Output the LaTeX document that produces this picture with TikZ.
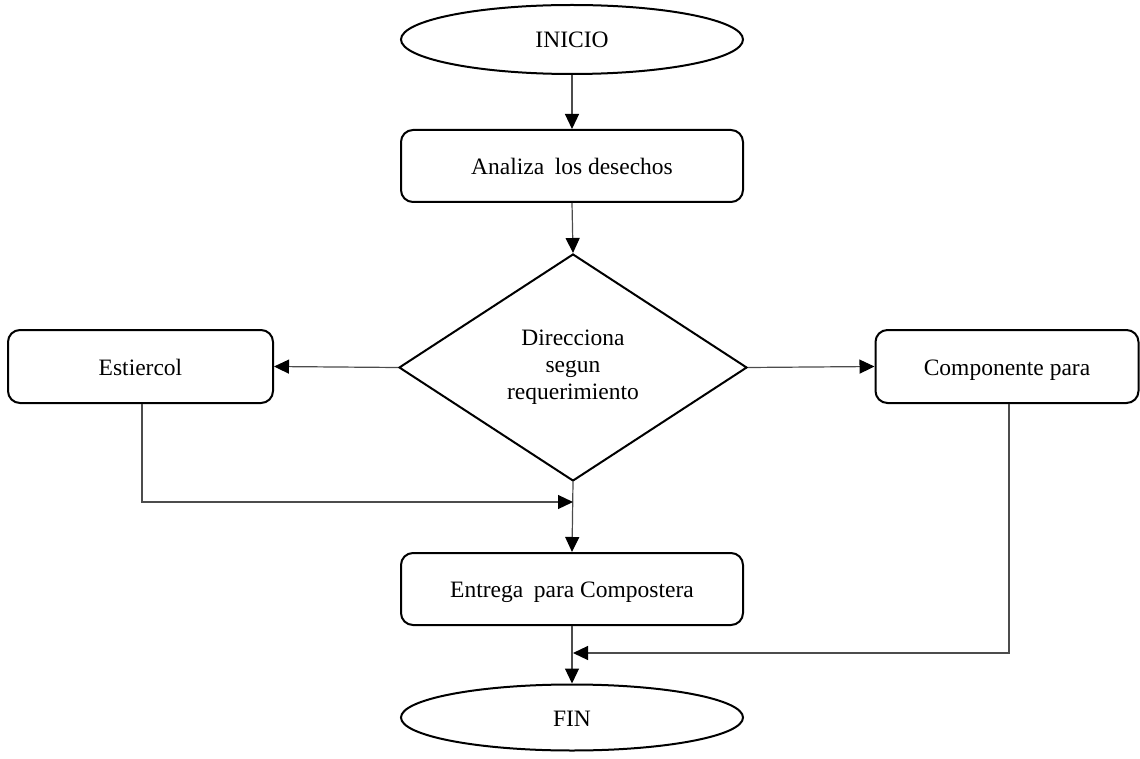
\documentclass[tikz,border=0pt]{standalone}
\usepackage{fontspec}
\setmainfont{Liberation Serif}
\usetikzlibrary{shapes.geometric,arrows.meta}
\begin{document}
\begin{tikzpicture}[x=1pt,y=-1pt,
  every node/.style={font=\fontsize{23.5}{27}\selectfont, inner sep=0pt},
  oneline/.style={text height=20pt, text depth=3pt},
  terminal/.style={ellipse, oneline, draw=black, line width=2pt, minimum width=342pt},
  process/.style={rectangle, oneline, draw=black, line width=2pt, rounded corners=12pt},
  decision/.style={diamond, align=center, draw=black, line width=2pt, minimum width=348pt, minimum height=227pt},
  link/.style={draw=black!70, line width=1.2pt,
    -{Triangle[length=15pt,width=14pt,color=black,fill=black]}}]
  \useasboundingbox (0,0) rectangle (1140,759);

  % nodes
  \node[terminal, minimum height=69pt] (inicio) at (572,39.5) {INICIO};
  \node[process, minimum width=342pt, minimum height=72pt] (analiza) at (572,166) {Analiza\hspace{0.45em}los desechos};
  \node[decision] (dir) at (573,367.5) {Direcciona\\segun\\requerimiento};
  \node[process, minimum width=265pt, minimum height=73pt] (estiercol) at (140.5,366.5) {Estiercol};
  \node[process, minimum width=263pt, minimum height=73pt] (componente) at (1007,366.5) {Componente para};
  \node[process, minimum width=342pt, minimum height=72pt] (entrega) at (572,589) {Entrega\hspace{0.45em}para Compostera};
  \node[terminal, minimum height=66pt] (fin) at (572,717.5) {FIN};

  % junction points on the central axis
  \coordinate (j1) at (573,502);
  \coordinate (j2) at (573,653);

  % connectors
  \draw[link] (inicio.south) -- (analiza.north);
  \draw[link] (analiza.south) -- (dir.north);
  \draw[link] (dir.west) -- (estiercol.east);
  \draw[link] (dir.east) -- (componente.west);
  \draw[link] (dir.south) -- (entrega.north);
  \draw[link] ([xshift=1.5pt]estiercol.south) |- (j1);
  \draw[link] (entrega.south) -- (fin.north);
  \draw[link] ([xshift=2pt]componente.south) |- (j2);
\end{tikzpicture}
\end{document}
